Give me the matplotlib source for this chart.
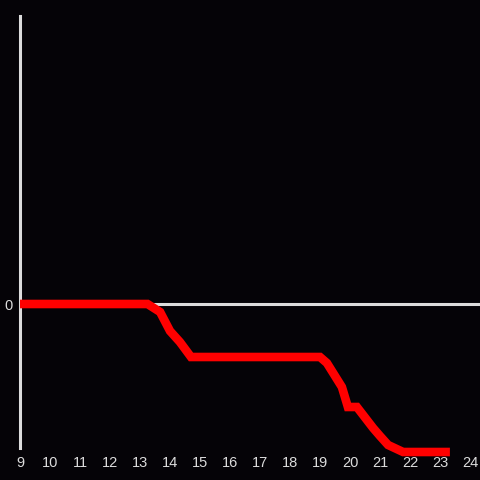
import matplotlib
matplotlib.use("Agg")
import matplotlib.pyplot as plt

# time of day (hours) and cumulative change
hours = [9, 13.25, 13.67, 14.0, 14.33, 14.7, 19.0, 19.23, 19.73, 19.93,
         20.23, 20.77, 21.0, 21.27, 21.77, 23.33]
values = [0, 0, -8, -27, -38, -53, -53, -59, -83, -103,
          -103, -124, -132, -141, -148, -148]
xticks = list(range(9, 25))

BG = "#050307"
AXIS = "#dcdcdc"
RED = "#ff0000"

fig = plt.figure(figsize=(4.8, 4.8), dpi=100, facecolor=BG)
ax = fig.add_axes([20 / 480, 32 / 480, 460 / 480, 432 / 480], facecolor=BG)

ax.axhline(0, color=AXIS, lw=2.2, zorder=1)
ax.plot(hours, values, color=RED, lw=6.2, solid_joinstyle="miter",
        solid_capstyle="butt", clip_on=False, zorder=3)

ax.set_xlim(9, 24 + 1 / 3)
ax.set_ylim(-144, 288)
ax.set_xticks(xticks)
ax.set_xticklabels([str(t) for t in xticks])
ax.set_yticks([0])
ax.set_yticklabels(["0"])
ax.tick_params(length=0, colors=AXIS, labelsize=10.5, pad=5.5)
for lab in ax.get_xticklabels() + ax.get_yticklabels():
    lab.set_family("Liberation Sans")
    lab.set_color(AXIS)

for s in ("top", "right", "bottom"):
    ax.spines[s].set_visible(False)
ax.spines["left"].set_color(AXIS)
ax.spines["left"].set_linewidth(2.2)

fig.savefig("out.png", dpi=100, facecolor=BG)
